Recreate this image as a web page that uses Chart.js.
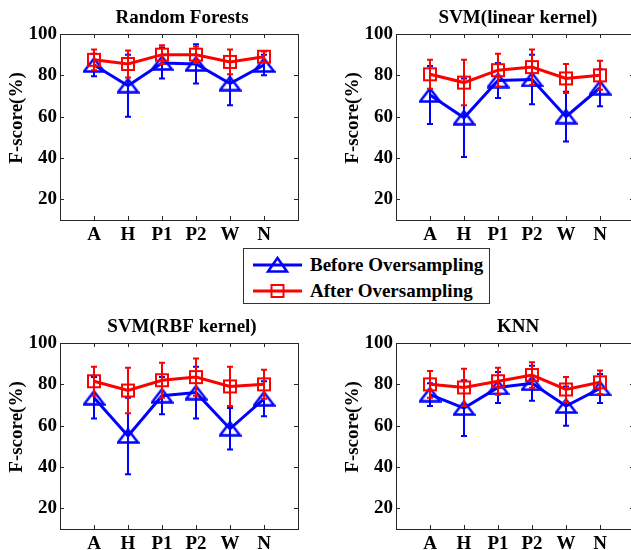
<!DOCTYPE html>
<html>
<head>
<meta charset="utf-8">
<script src="https://cdn.jsdelivr.net/npm/chart.js@4.4.0/dist/chart.umd.min.js"></script>
<style>
  html, body { margin: 0; padding: 0; background: #fff; overflow: hidden; }
  body { width: 631px; height: 550px; position: relative; }
  .panel { position: absolute; width: 310px; height: 250px; }
  #legend { position: absolute; left: 243px; top: 248px; width: 245px; height: 54px;
            border: 1px solid #333; background: #fff;
            font: bold 19px "Liberation Serif", "Times New Roman", serif; color: #000; }
  #legend .row { position: absolute; left: 0; height: 20px; width: 100%; }
  #legend svg { position: absolute; left: 9px; top: 0; }
  #legend span { position: absolute; left: 66px; top: 0; line-height: 20px; white-space: nowrap; }
</style>
</head>
<body>
<div class="panel" style="left:0px;top:0px"><canvas id="c1" width="310" height="250"></canvas></div>
<div class="panel" style="left:336px;top:0px"><canvas id="c2" width="310" height="250"></canvas></div>
<div class="panel" style="left:0px;top:309px"><canvas id="c3" width="310" height="250"></canvas></div>
<div class="panel" style="left:336px;top:309px"><canvas id="c4" width="310" height="250"></canvas></div>

<div id="legend">
  <div class="row" style="top:6px">
    <svg width="50" height="20"><line x1="0" y1="10" x2="49" y2="10" stroke="#0000ff" stroke-width="3"/>
      <polygon points="24.5,3 15,16.5 34,16.5" fill="none" stroke="#0000ff" stroke-width="2.5"/></svg>
    <span>Before Oversampling</span>
  </div>
  <div class="row" style="top:32px">
    <svg width="50" height="20"><line x1="0" y1="10" x2="49" y2="10" stroke="#ff0000" stroke-width="3"/>
      <rect x="18.5" y="4" width="12" height="12" fill="none" stroke="#ff0000" stroke-width="2"/></svg>
    <span>After Oversampling</span>
  </div>
</div>

<script>
const categories = ['A', 'H', 'P1', 'P2', 'W', 'N'];
const yTicks = [20, 40, 60, 80, 100];
const panelTitles = ['Random Forests', 'SVM(linear kernel)', 'SVM(RBF kernel)', 'KNN'];

// Before Oversampling (blue)
const rfBefore = [85, 75, 86, 85.5, 76, 85];
const rfBeforeErr = [5.5, 15, 7.5, 9.5, 10.5, 5];
const linBefore = [70.5, 59.5, 77.5, 78, 60, 74];
const linBeforeErr = [14, 19, 8.5, 12, 12, 9];
const rbfBefore = [73.5, 55, 74.5, 76, 58.5, 73];
const rbfBeforeErr = [10, 18.5, 9, 12.5, 10, 8.5];
const knnBefore = [75, 68.5, 78.5, 80.5, 69.5, 78];
const knnBeforeErr = [5.5, 13.5, 7.5, 8.5, 9.5, 7];

// After Oversampling (red)
const rfAfter = [87.5, 85.5, 90, 90, 86.5, 89];
const rfAfterErr = [5, 6.5, 4.5, 4, 6, 2.5];
const linAfter = [80.5, 76.5, 82.5, 84, 78.5, 80];
const linAfterErr = [7, 11, 8, 8.5, 7, 7];
const rbfAfter = [81.5, 77, 82, 83.5, 79, 80];
const rbfAfterErr = [7, 11, 8.5, 9, 9.5, 7];
const knnAfter = [80, 78.5, 81.5, 84.5, 77.5, 81];
const knnAfterErr = [6.5, 9, 6.5, 6.2, 6, 5.7];

const FONT = '"Liberation Serif", "Times New Roman", serif';
const AXIS = '#262626';

// hollow marker images
function makeTriangle() {
    var c = document.createElement('canvas');
    c.width = 23; c.height = 16;
    var g = c.getContext('2d');
    g.strokeStyle = '#0000ff';
    g.lineWidth = 2.5;
    g.beginPath();
    g.moveTo(11.5, 1.5); g.lineTo(21.5, 14.5); g.lineTo(1.5, 14.5); g.closePath();
    g.stroke();
    return c;
}
function makeSquare() {
    var c = document.createElement('canvas');
    c.width = 16; c.height = 16;
    var g = c.getContext('2d');
    g.strokeStyle = '#ff0000';
    g.lineWidth = 2;
    g.strokeRect(2, 2, 12, 12);
    return c;
}
const triImg = makeTriangle();
const sqImg = makeSquare();

const errorBars = {
    id: 'errorBars',
    beforeDatasetDraw(chart, args) {
        const ds = chart.data.datasets[args.index];
        const y = chart.scales.y;
        const ctx = chart.ctx;
        ctx.save();
        ctx.strokeStyle = ds.borderColor;
        ctx.lineWidth = 2;
        args.meta.data.forEach((pt, i) => {
            const v = ds.data[i].y, e = ds.errors[i];
            const top = y.getPixelForValue(v + e), bot = y.getPixelForValue(v - e);
            ctx.beginPath();
            ctx.moveTo(pt.x, top); ctx.lineTo(pt.x, bot);
            ctx.moveTo(pt.x - 3, top); ctx.lineTo(pt.x + 3, top);
            ctx.moveTo(pt.x - 3, bot); ctx.lineTo(pt.x + 3, bot);
            ctx.stroke();
        });
        ctx.restore();
    }
};

const frame = {
    id: 'frame',
    beforeDatasetsDraw(chart, args, opts) {
        const a = chart.chartArea, ctx = chart.ctx;
        const xs = chart.scales.x, ys = chart.scales.y;
        ctx.save();
        ctx.strokeStyle = AXIS;
        ctx.lineWidth = 1;
        ctx.strokeRect(Math.round(a.left) + 0.5, Math.round(a.top) + 0.5, Math.round(a.right - a.left), Math.round(a.bottom - a.top));
        ctx.beginPath();
        yTicks.forEach(v => {
            const py = Math.round(ys.getPixelForValue(v)) + 0.5;
            ctx.moveTo(a.left, py); ctx.lineTo(a.left + 4, py);
            ctx.moveTo(a.right, py); ctx.lineTo(a.right - 4, py);
        });
        categories.forEach((c, i) => {
            const px = Math.round(xs.getPixelForValue(i + 1)) + 0.5;
            ctx.moveTo(px, a.top); ctx.lineTo(px, a.top + 4);
            ctx.moveTo(px, a.bottom); ctx.lineTo(px, a.bottom - 4);
        });
        ctx.stroke();
        // title and y label
        ctx.fillStyle = '#000';
        ctx.font = 'bold 19px ' + FONT;
        ctx.textAlign = 'center';
        ctx.textBaseline = 'middle';
        ctx.fillText(opts.title, (a.left + a.right) / 2 + 3, 18);
        ctx.translate(a.left - 43, (a.top + a.bottom) / 2 - 9);
        ctx.rotate(-Math.PI / 2);
        ctx.fillText('F-score(%)', 0, 0);
        ctx.restore();
    }
};

function points(vals) {
    return vals.map((v, i) => ({ x: i + 1, y: v }));
}

function drawPanel(id, title, before, beforeErr, after, afterErr) {
    const ctx = document.getElementById(id);
    new Chart(ctx, {
        type: 'scatter',
        data: {
            datasets: [{
                    label: 'After Oversampling',
                    data: points(after),
                    errors: afterErr,
                    borderColor: '#ff0000',
                    backgroundColor: '#ff0000',
                    borderWidth: 3,
                    showLine: true,
                    pointStyle: sqImg,
                    pointRadius: 7,
                    order: 0
                },
                {
                    label: 'Before Oversampling',
                    data: points(before),
                    errors: beforeErr,
                    borderColor: '#0000ff',
                    backgroundColor: '#0000ff',
                    borderWidth: 3,
                    showLine: true,
                    pointStyle: triImg,
                    pointRadius: 8,
                    order: 1
                }
            ]
        },
        options: {
            responsive: false,
            animation: false,
            events: [],
            layout: { padding: { left: 0, right: 12, top: 34, bottom: 0 } },
            plugins: {
                legend: { display: false },
                tooltip: { enabled: false },
                frame: { title: title }
            },
            scales: {
                x: {
                    type: 'linear',
                    min: 0,
                    max: 7,
                    afterBuildTicks: s => { s.ticks = categories.map((c, i) => ({ value: i + 1 })); },
                    afterFit: s => { s.height = 30; },
                    grid: { display: false, drawTicks: false },
                    border: { display: false },
                    ticks: {
                        autoSkip: false,
                        maxRotation: 0,
                        padding: 4,
                        color: '#000',
                        font: { family: FONT, size: 19, weight: 'bold' },
                        callback: (v, i) => categories[i]
                    }
                },
                y: {
                    type: 'linear',
                    min: 10,
                    max: 100,
                    afterBuildTicks: s => { s.ticks = yTicks.map(v => ({ value: v })); },
                    afterFit: s => { s.width = 60; },
                    grid: { display: false, drawTicks: false },
                    border: { display: false },
                    ticks: {
                        padding: 3,
                        color: '#000',
                        font: { family: FONT, size: 19, weight: 'bold' }
                    }
                }
            }
        },
        plugins: [frame, errorBars]
    });
}

drawPanel('c1', panelTitles[0], rfBefore, rfBeforeErr, rfAfter, rfAfterErr);
drawPanel('c2', panelTitles[1], linBefore, linBeforeErr, linAfter, linAfterErr);
drawPanel('c3', panelTitles[2], rbfBefore, rbfBeforeErr, rbfAfter, rbfAfterErr);
drawPanel('c4', panelTitles[3], knnBefore, knnBeforeErr, knnAfter, knnAfterErr);
</script>
</body>
</html>
